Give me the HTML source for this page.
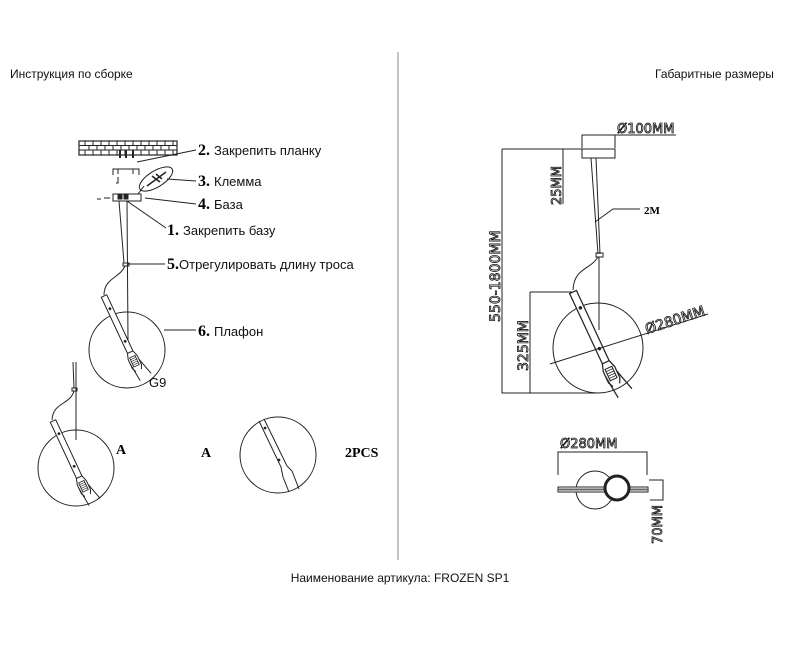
<!DOCTYPE html>
<html><head><meta charset="utf-8"><style>
html,body{margin:0;padding:0;background:#fff;width:800px;height:655px;overflow:hidden}
svg{display:block}
.t{font-family:"Liberation Sans",sans-serif;fill:#111}
.b{font-family:"Liberation Serif",serif;font-weight:bold;fill:#000}
.d{font-family:"DejaVu Sans","Liberation Sans",sans-serif;fill:#fff;stroke:#111;stroke-width:0.8}
</style></head><body>
<svg width="800" height="655" viewBox="0 0 800 655" xmlns="http://www.w3.org/2000/svg">
<defs>
<g id="rod">
 <rect x="-3" y="0" width="6" height="62" fill="#fff" stroke="#222" stroke-width="1"/>
 <circle cx="0" cy="14" r="0.9" fill="#222"/><circle cx="0" cy="50" r="0.9" fill="#222"/>
 <path d="M-3,62 L-5,68 L-5,78 L-3,82 M3,62 L5,68 L5,78 L3,82" fill="none" stroke="#222" stroke-width="1"/>
 <rect x="-3" y="67" width="6" height="10" fill="#fff" stroke="#222" stroke-width="0.8"/>
 <path d="M-3,69 h6 M-3,71 h6 M-3,73 h6 M-3,75 h6" stroke="#222" stroke-width="0.6"/>
 <path d="M-5,72 L-3,92 M5,72 L10,90" fill="none" stroke="#222" stroke-width="1"/>
</g>
</defs>
<g stroke="#222" fill="none" stroke-width="1">
<line x1="398" y1="52" x2="398" y2="560" stroke="#888"/>

<rect x="79" y="141" width="98" height="14" stroke-width="1.2"/>
<path d="M79,145.5 H177 M79,150 H177 M85,141 V145.5 M93,141V145.5 M101,141V145.5 M109,141V145.5 M117,141V145.5 M125,141V145.5 M133,141V145.5 M141,141V145.5 M149,141V145.5 M157,141V145.5 M165,141V145.5 M173,141V145.5 M89,145.5V150 M97,145.5V150 M105,145.5V150 M113,145.5V150 M121,145.5V150 M129,145.5V150 M137,145.5V150 M145,145.5V150 M153,145.5V150 M161,145.5V150 M169,145.5V150 M85,150V155 M93,150V155 M101,150V155 M109,150V155 M117,150V155 M125,150V155 M133,150V155 M141,150V155 M149,150V155 M157,150V155 M165,150V155 M173,150V155"/>
<path d="M120,150 v8 M126,150 v8 M133,150 v8" stroke-width="2"/>
<path d="M113,175 V169 H139 V175 M118,169 v5 M133,169 v5"/>
<path d="M118,177 v6 h-2"/>
<ellipse cx="156" cy="179" rx="19" ry="8" transform="rotate(-32 156 179)"/>
<path d="M147,186 L166,172 M152,176 l8,6 M156,174 l6,5" stroke-width="1.5"/>
<line x1="144" y1="186" x2="138" y2="194"/>
<rect x="113" y="194" width="28" height="7"/>
<rect x="118" y="195" width="4" height="4" fill="#222"/><rect x="124" y="195" width="4" height="4" fill="#222"/>
<path d="M97,199 h4 M104,198 h6" />
<path d="M137,162 L196,150"/>
<path d="M167,179 L196,181"/>
<path d="M145,198 L196,204"/>
<path d="M127,201 L166,228"/>
<path d="M128,264 L165,264"/>
<path d="M164,330 L196,330"/>
<path d="M119,201 L124,263 M127,201 L128,340"/>
<rect x="123" y="263" width="6" height="3"/>
<path d="M125,266 C120,278 104,278 104,295"/>
<circle cx="127" cy="350" r="38"/>
<use href="#rod" transform="translate(104,296) rotate(-25)"/>

<path d="M73,362 L74,388 M76,362 L76,440"/>
<rect x="72" y="388" width="5" height="3"/>
<path d="M74,391 C70,405 53,402 52,420"/>
<circle cx="76" cy="468" r="38"/>
<use href="#rod" transform="translate(53,421) rotate(-25)"/>

<circle cx="278" cy="455" r="38"/>
<path d="M259,421 L281,467 L283,477 L289,492 M264,419 L287,466 L292,471 L299,489"/>
<circle cx="265" cy="428" r="0.9" fill="#222"/><circle cx="279" cy="460" r="0.9" fill="#222"/>

<rect x="582" y="149" width="33" height="9"/>
<path d="M582,148 V135 H676 M615,148 V135"/>
<path d="M502,149 H582 M502,149 V393 H598 M563,149 V204" />
<path d="M530,292 H573 M530,292 V393"/>
<path d="M591,158 L598,254 M596,158 L600,254 M599,257 L599,330"/>
<rect x="596" y="253" width="7" height="4"/>
<path d="M598,257 C590,270 574,268 573,290"/>
<path d="M595,222 L613,209 H640"/>
<circle cx="598" cy="348" r="45"/>
<use href="#rod" transform="translate(573,292) rotate(-25) scale(1.25)"/>
<path d="M550,364 L708,314"/>

<path d="M558,475 V452 H647 V475"/>
<circle cx="595" cy="490" r="19"/>
<rect x="558" y="487" width="90" height="5" fill="#fff"/>
<line x1="558" y1="489.5" x2="648" y2="489.5" stroke="#666" stroke-width="2"/>
<circle cx="617" cy="488" r="12" stroke-width="3" fill="#fff"/>
<path d="M649,480 H663 V500 H650"/>
</g>

<text class="t" x="10" y="78" font-size="12">Инструкция по сборке</text>
<text class="t" x="655" y="78" font-size="12">Габаритные размеры</text>
<text class="t" x="400" y="582" font-size="12" text-anchor="middle">Наименование артикула: FROZEN SP1</text>

<text x="198" y="155" font-size="13"><tspan class="b" font-size="16">2.</tspan><tspan class="t" dx="4">Закрепить планку</tspan></text>
<text x="198" y="186" font-size="13"><tspan class="b" font-size="16">3.</tspan><tspan class="t" dx="4">Клемма</tspan></text>
<text x="198" y="209" font-size="13"><tspan class="b" font-size="16">4.</tspan><tspan class="t" dx="4">База</tspan></text>
<text x="167" y="235" font-size="13"><tspan class="b" font-size="16">1.</tspan><tspan class="t" dx="4">Закрепить базу</tspan></text>
<text x="167" y="269" font-size="13"><tspan class="b" font-size="16">5.</tspan><tspan class="t">Отрегулировать длину троса</tspan></text>
<text x="198" y="336" font-size="13"><tspan class="b" font-size="16">6.</tspan><tspan class="t" dx="4">Плафон</tspan></text>
<text class="t" x="149" y="387" font-size="13" fill="#444">G9</text>
<text class="b" x="116" y="454" font-size="14">A</text>
<text class="b" x="201" y="457" font-size="14">A</text>
<text class="b" x="345" y="457" font-size="14">2PCS</text>

<text class="d" x="617" y="133" font-size="13">Ø100MM</text>
<text class="d" x="0" y="0" font-size="13" transform="translate(561,205) rotate(-90)">25MM</text>
<text class="d" x="0" y="0" font-size="14" transform="translate(500,322) rotate(-90)">550-1800MM</text>
<text class="d" x="0" y="0" font-size="14" transform="translate(528,371) rotate(-90)">325MM</text>
<text class="d" x="0" y="0" font-size="14" transform="translate(647,334) rotate(-18)">Ø280MM</text>
<text class="d" x="560" y="448" font-size="13">Ø280MM</text>
<text class="d" x="0" y="0" font-size="13" transform="translate(662,544) rotate(-90)">70MM</text>
<text class="b" x="644" y="214" font-size="11">2M</text>
</svg>
</body></html>
